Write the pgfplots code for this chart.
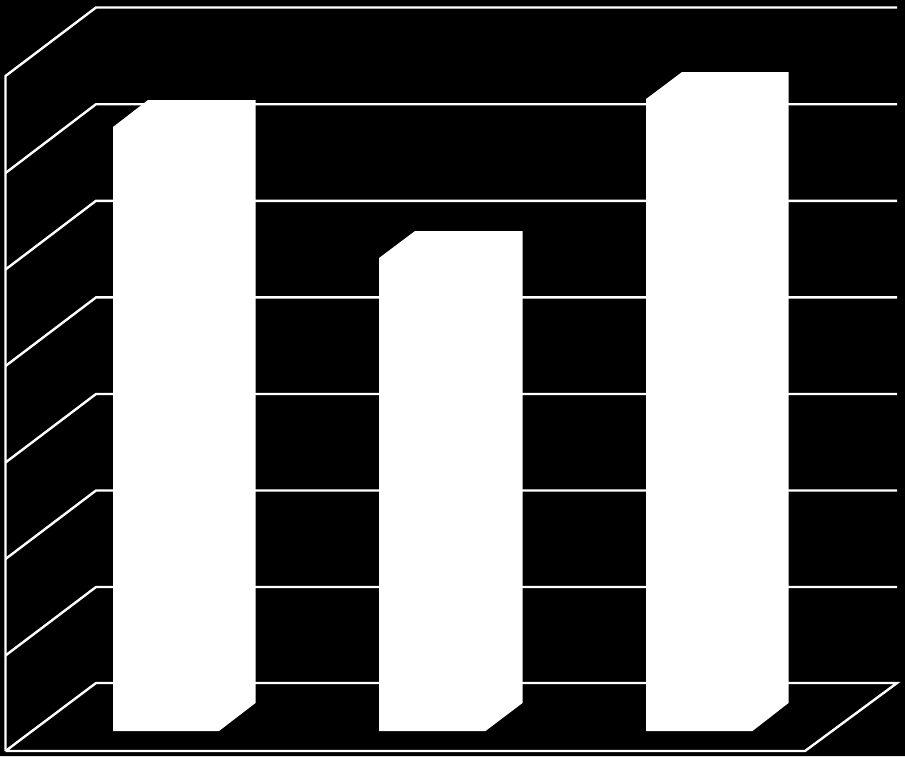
\documentclass[border=0pt]{standalone}
\usepackage{pgfplots}
\pgfplotsset{compat=1.18}
\begin{document}
\begin{tikzpicture}
\begin{axis}[
  scale only axis, width=905pt, height=756pt,
  xmin=0, xmax=905, ymin=0, ymax=756, y dir=reverse,
  axis lines=none, ticks=none, clip=true,
  wall/.style={white, line width=2.4pt, line join=miter, no marks},
  bar/.style={draw=none, fill=white, no marks},
]
% background
\addplot[fill=black, draw=none, no marks] coordinates {(0,0) (905,0) (905,756) (0,756) (0,0)};
% gridlines: front wall edge -> back wall -> right end
\addplot[wall] coordinates {(5.5,751) (5.5,76) (96,7.5) (897,7.5)};
\addplot[wall] coordinates {(5.5,173) (96,104.2) (897,104.2)};
\addplot[wall] coordinates {(5.5,269.5) (96,200.8) (897,200.8)};
\addplot[wall] coordinates {(5.5,366) (96,297.4) (897,297.4)};
\addplot[wall] coordinates {(5.5,462.5) (96,394) (897,394)};
\addplot[wall] coordinates {(5.5,559) (96,490.5) (897,490.5)};
\addplot[wall] coordinates {(5.5,655.5) (96,587) (897,587)};
% floor
\addplot[wall] coordinates {(5.5,751) (96,683) (897,683) (805,751) (5.5,751)};
% bars (outline of the extruded box: front, side and top faces)
\addplot[bar] coordinates {(113,731) (113,127) (148,100) (255.5,100) (255.5,703) (219,731) (113,731)};
\addplot[bar] coordinates {(379,731) (379,258) (415,231) (522.5,231) (522.5,703) (485.5,731) (379,731)};
\addplot[bar] coordinates {(646,731) (646,99) (682,72) (788.5,72) (788.5,703) (752.5,731) (646,731)};
\end{axis}
\end{tikzpicture}
\end{document}
